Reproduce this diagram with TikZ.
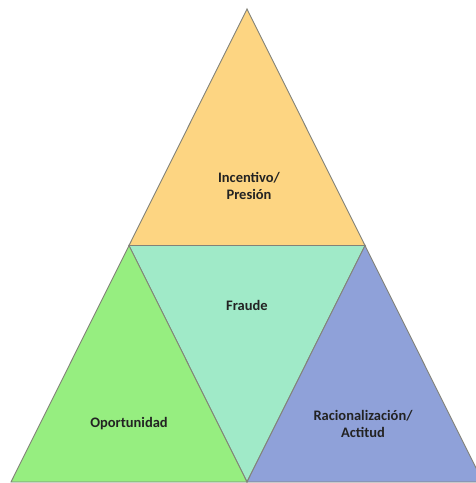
\documentclass[tikz,border=0pt]{standalone}
\usepackage{fontspec}
\setmainfont{Carlito}
\definecolor{topc}{RGB}{253,213,130}
\definecolor{midc}{RGB}{160,234,200}
\definecolor{leftc}{RGB}{150,238,128}
\definecolor{rightc}{RGB}{143,161,217}
\definecolor{edgec}{RGB}{130,130,120}
\definecolor{txt}{RGB}{35,35,35}
\begin{document}
\begin{tikzpicture}[x=1pt,y=-1pt,
  face/.style={draw=edgec,line width=0.9pt,line join=miter},
  lbl/.style={font=\bfseries\fontsize{14.5}{16.5}\selectfont,text=txt,align=center,inner sep=0pt}]
\useasboundingbox (0,0) rectangle (476,483);
\clip (0,0) rectangle (476,483);
\coordinate (A) at (247,9);
\coordinate (ML) at (129,245.5);
\coordinate (MR) at (365,245.5);
\coordinate (BL) at (11,482);
\coordinate (BM) at (247,482);
\coordinate (BR) at (483,482);
\fill[white] (0,0) rectangle (476,483);
\filldraw[face,fill=topc] (A) -- (MR) -- (ML) -- cycle;
\filldraw[face,fill=midc] (ML) -- (MR) -- (BM) -- cycle;
\filldraw[face,fill=leftc] (ML) -- (BM) -- (BL) -- cycle;
\filldraw[face,fill=rightc] (MR) -- (BR) -- (BM) -- cycle;
\node[lbl] (inc) at (249,186) {Incentivo/\\Presión};
\node[lbl] (fra) at (247,305) {Fraude};
\node[lbl] (opo) at (129,424) {Oportunidad};
\node[lbl] (rac) at (363,424) {Racionalización/\\Actitud};
\end{tikzpicture}
\end{document}
